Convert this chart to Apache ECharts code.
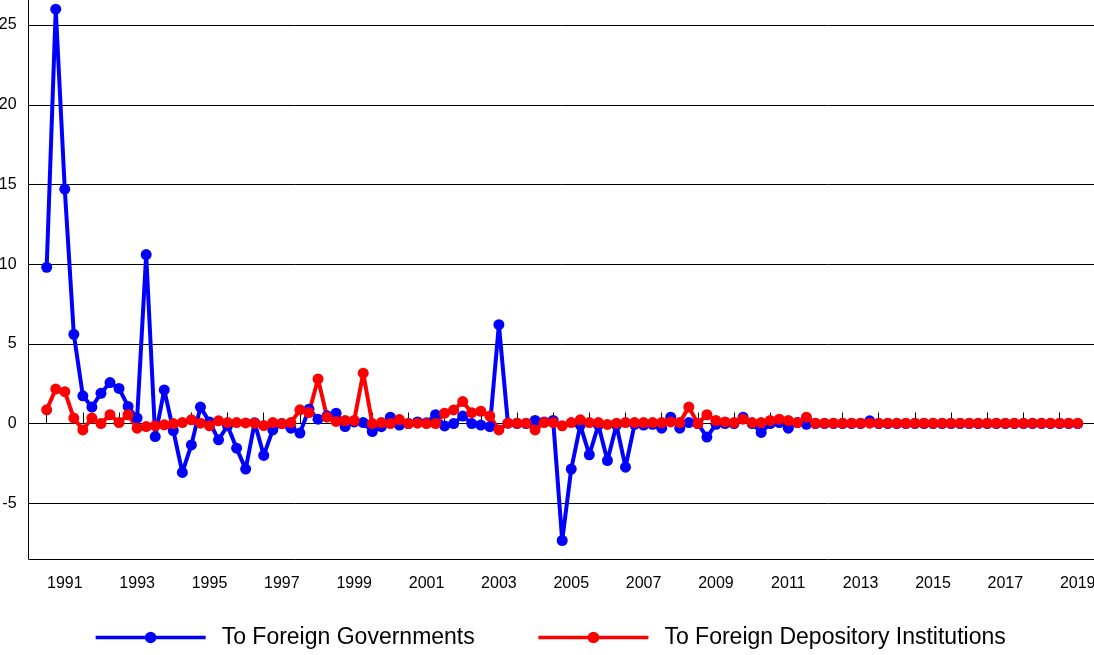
<!DOCTYPE html>
<html>
<head>
<meta charset="utf-8">
<script src="https://cdn.jsdelivr.net/npm/echarts@6/dist/echarts.min.js"></script>
<style>
html,body{margin:0;padding:0;background:#fff;}
#chart{width:1094px;height:655px;}
</style>
</head>
<body>
<div id="chart"></div>
<script>
// Quarterly data, 1991Q1 .. 2019Q3
var firstYear = 1991;
var lastYear = 2019;
var lastQuarter = 3;
var seriesNames = ['To Foreign Governments', 'To Foreign Depository Institutions'];
var foreignGovernments = [
  9.8, 26.0, 14.7, 5.6, 1.74, 1.03, 1.9, 2.57, 2.2, 1.07,
  0.34, 10.6, -0.82, 2.11, -0.44, -3.07, -1.34, 1.03, 0.1, -1.02,
  -0.14, -1.55, -2.86, 0.05, -2.0, -0.4, 0.0, -0.29, -0.6, 0.9,
  0.27, 0.48, 0.65, -0.19, 0.1, 0.06, -0.5, -0.2, 0.4, -0.1,
  0.0, 0.1, 0.05, 0.55, -0.15, 0.0, 0.47, 0.0, -0.1, -0.2,
  6.2, 0.02, 0.0, 0.0, 0.19, 0.1, 0.19, -7.34, -2.86, -0.1,
  -1.96, -0.1, -2.32, -0.1, -2.74, -0.05, -0.1, -0.05, -0.29, 0.4,
  -0.29, 0.06, 0.0, -0.85, -0.05, 0.0, 0.0, 0.4, 0.0, -0.56,
  0.0, 0.06, -0.29, 0.06, -0.05, 0.0, 0.0, 0.0, 0.0, 0.0,
  0.0, 0.17, 0.0, 0.0, 0.0, 0.0, 0.0, 0.0, 0.0, 0.0,
  0.0, 0.0, 0.0, 0.0, 0.0, 0.0, 0.0, 0.0, 0.0, 0.0,
  0.0, 0.0, 0.0, 0.0, 0.0
];
var foreignDepository = [
  0.86, 2.16, 2.0, 0.34, -0.4, 0.34, 0.0, 0.55, 0.06, 0.55,
  -0.29, -0.19, -0.14, -0.08, 0.0, 0.06, 0.23, 0.02, -0.14, 0.17,
  0.06, 0.06, 0.04, 0.02, -0.13, 0.06, 0.0, 0.06, 0.86, 0.69,
  2.8, 0.4, 0.13, 0.19, 0.19, 3.16, 0.0, 0.06, 0.0, 0.25,
  0.0, 0.02, 0.0, 0.0, 0.65, 0.85, 1.38, 0.68, 0.77, 0.47,
  -0.4, 0.02, 0.02, 0.02, -0.4, 0.06, 0.06, -0.14, 0.06, 0.23,
  0.06, 0.06, -0.06, 0.02, 0.06, 0.06, 0.06, 0.06, 0.06, 0.1,
  0.06, 1.03, 0.0, 0.55, 0.19, 0.1, 0.06, 0.27, 0.06, 0.06,
  0.19, 0.27, 0.19, 0.06, 0.4, 0.02, 0.02, 0.02, 0.02, 0.02,
  0.02, 0.02, 0.02, 0.02, 0.02, 0.02, 0.02, 0.02, 0.02, 0.02,
  0.02, 0.02, 0.02, 0.02, 0.02, 0.02, 0.02, 0.02, 0.02, 0.02,
  0.02, 0.02, 0.02, 0.02, 0.02
];
var yTickValues = [-5, 0, 5, 10, 15, 20, 25];

var PAD = 2;
var quarters = [];
for (var y = firstYear; y <= lastYear; y++) {
  for (var q = 1; q <= 4; q++) {
    if (y === lastYear && q > lastQuarter) break;
    quarters.push(y + 'Q' + q);
  }
}
var categories = [];
for (var i = 0; i < PAD; i++) categories.push('pad' + i);
categories = categories.concat(quarters);
for (var i = 0; i < PAD; i++) categories.push('padEnd' + i);

function padded(arr) {
  var out = [];
  for (var i = 0; i < PAD; i++) out.push('-');
  out = out.concat(arr);
  for (var i = 0; i < PAD; i++) out.push('-');
  return out;
}
var nData = quarters.length;

var chart = echarts.init(document.getElementById('chart'), null, {renderer: 'canvas'});
var font = '"Liberation Sans", Arial, sans-serif';
chart.setOption({
  animation: false,
  backgroundColor: '#ffffff',
  grid: {left: 28.6, right: -1.8, top: -10, bottom: 96, containLabel: false, outerBoundsMode: 'none'},
  legend: {
    data: seriesNames,
    left: 94,
    top: 626,
    padding: 0,
    itemWidth: 110,
    itemHeight: 14.5,
    itemGap: 62,
    lineStyle: {width: 3.3},
    textStyle: {fontFamily: font, fontSize: 23, color: '#000', padding: [0, 0, 0, 11]}
  },
  xAxis: {
    type: 'category',
    data: categories,
    boundaryGap: false,
    axisLine: {lineStyle: {color: '#000', width: 1}},
    axisTick: {
      show: true, inside: true, length: 11,
      lineStyle: {color: '#000', width: 1},
      interval: function (idx) { return idx >= PAD && idx < PAD + nData && (idx - PAD) % 4 === 0; }
    },
    axisLabel: {
      show: true, margin: 17, fontFamily: font, fontSize: 16, color: '#000',
      interval: function (idx) { return idx >= PAD && idx < PAD + nData && (idx - PAD - 2) % 8 === 0; },
      formatter: function (v) { return v.slice(0, 4); }
    },
    splitLine: {show: false}
  },
  yAxis: {
    type: 'value',
    min: -8.5,
    max: 27.2,
    splitNumber: 7,
    minInterval: 5,
    maxInterval: 5,
    axisLine: {show: true, lineStyle: {color: '#000', width: 1}},
    axisTick: {show: false},
    axisLabel: {
      margin: 12, fontFamily: font, fontSize: 16, color: '#000',
      showMinLabel: false, showMaxLabel: false,
      formatter: function (v) { return yTickValues.indexOf(v) >= 0 ? String(v) : ''; }
    },
    splitLine: {show: true, lineStyle: {color: '#000', width: 1}}
  },
  series: [
    {
      name: seriesNames[0], type: 'line', data: padded(foreignGovernments),
      color: '#0000ff', symbol: 'circle', symbolSize: 11, showSymbol: true, showAllSymbol: true,
      lineStyle: {color: '#0000ff', width: 4}, itemStyle: {color: '#0000ff'},
      connectNulls: false
    },
    {
      name: seriesNames[1], type: 'line', data: padded(foreignDepository),
      color: '#ff0000', symbol: 'circle', symbolSize: 11, showSymbol: true, showAllSymbol: true,
      lineStyle: {color: '#ff0000', width: 4}, itemStyle: {color: '#ff0000'},
      connectNulls: false
    }
  ]
});
</script>
</body>
</html>
